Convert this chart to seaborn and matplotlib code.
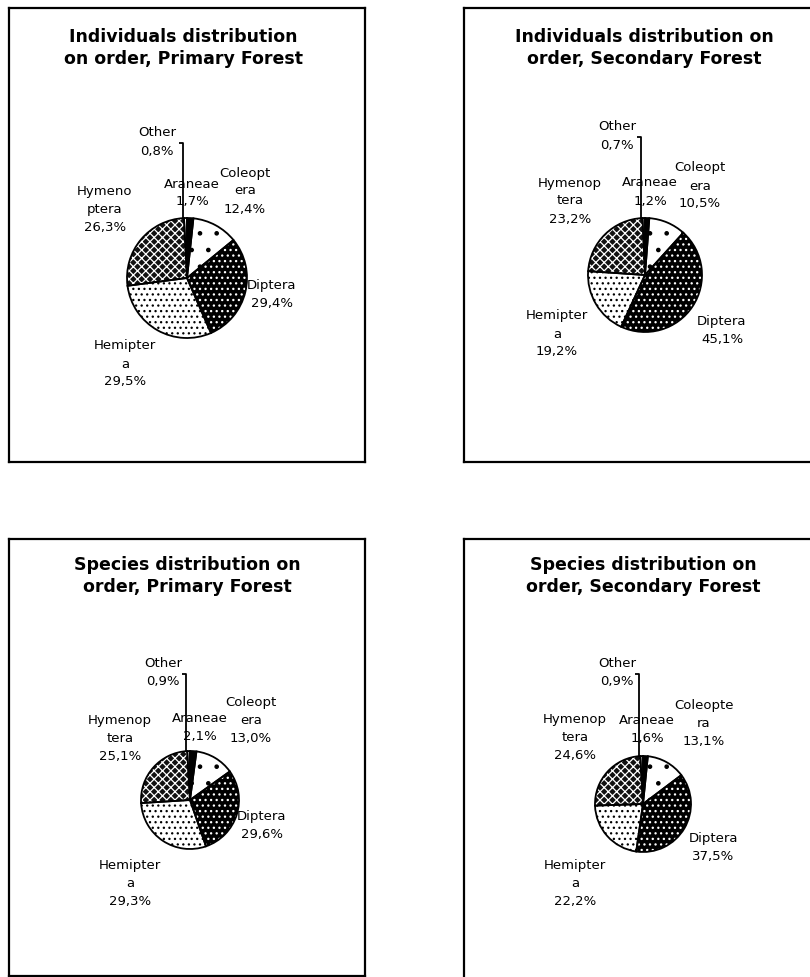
import matplotlib
matplotlib.use("Agg")
import matplotlib.pyplot as plt
import seaborn as sns

sns.set_theme(style="white")
plt.rcParams["font.family"] = ["DejaVu Sans"]
plt.rcParams["hatch.linewidth"] = 0.9

# data: slice order clockwise from 12 o'clock
orders = ["Araneae", "Coleoptera", "Diptera", "Hemiptera", "Hymenoptera", "Other"]
ind_primary = [1.7, 12.4, 29.4, 29.5, 26.3, 0.8]
ind_secondary = [1.2, 10.5, 45.1, 19.2, 23.2, 0.7]
spe_primary = [2.1, 13.0, 29.6, 29.3, 25.1, 0.9]
spe_secondary = [1.6, 13.1, 37.5, 22.2, 24.6, 0.9]

titles = ["Individuals distribution\non order, Primary Forest",
          "Individuals distribution on\norder, Secondary Forest",
          "Species distribution on\norder, Primary Forest",
          "Species distribution on\norder, Secondary Forest"]

# how each chart wrapped the category names
names_tl = ["Araneae", "Coleopt\nera", "Diptera", "Hemipter\na", "Hymeno\nptera", "Other"]
names_tr = ["Araneae", "Coleopt\nera", "Diptera", "Hemipter\na", "Hymenop\ntera", "Other"]
names_bl = ["Araneae", "Coleopt\nera", "Diptera", "Hemipter\na", "Hymenop\ntera", "Other"]
names_br = ["Araneae", "Coleopte\nra", "Diptera", "Hemipter\na", "Hymenop\ntera", "Other"]

panels = [(ind_primary, names_tl), (ind_secondary, names_tr),
          (spe_primary, names_bl), (spe_secondary, names_br)]

# layout in figure pixels (x0, top, x1, bottom), pie centre, radius, title centre
W, H = 810, 978
boxes = [(9, 9, 365, 463), (464, 9, 820, 463), (9, 540, 365, 977), (464, 540, 820, 990)]
centres = [(187, 279, 60), (645, 276, 57), (190, 801, 49), (643, 805, 48)]
title_pos = [(183, 48), (644, 48), (187, 576), (643, 576)]
# label offsets from the pie centre (dx, dy downwards), same order as orders
label_off = [
    [(5, -86), (58, -88), (85, 15), (-62, 85), (-82, -69), (-30, -137)],
    [(5, -84), (55, -90), (77, 54), (-88, 58), (-75, -75), (-28, -140)],
    [(10, -73), (61, -80), (72, 25), (-60, 83), (-70, -62), (-27, -128)],
    [(4, -75), (61, -81), (70, 43), (-68, 79), (-68, -67), (-26, -132)],
]
# slice styles: face, hatch, hatch colour
styles = [("black", "", "black"),
          ("white", ".", "black"),
          ("black", "...", "white"),
          ("white", "...", "black"),
          ("#111111", "xxxx", "white"),
          ("white", "", "black")]

fig = plt.figure(figsize=(W / 100, H / 100), dpi=100)
fig.patch.set_facecolor("white")

for k, (vals, names) in enumerate(panels):
    x0, top, x1, bot = boxes[k]
    ax = fig.add_axes([x0 / W, 1 - bot / H, (x1 - x0) / W, (bot - top) / H])
    cx, cy, r = centres[k]
    cyu = H - cy
    wedges, _ = ax.pie(vals, startangle=90, counterclock=False, center=(cx, cyu),
                       radius=r, frame=True, wedgeprops=dict(linewidth=0))
    for w, (fc, ht, hc) in zip(wedges, styles):
        w.set_facecolor(fc)
        w.set_hatch(ht)
        w.set_edgecolor(hc)
    ax.pie(vals, startangle=90, counterclock=False, center=(cx, cyu), radius=r,
           frame=True, wedgeprops=dict(fill=False, edgecolor="black", linewidth=1.3))
    ax.set_xlim(x0, x1)
    ax.set_ylim(H - bot, H - top)
    ax.set_aspect("auto")
    ax.set_xticks([])
    ax.set_yticks([])
    for s in ax.spines.values():
        s.set_visible(True)
        s.set_color("black")
        s.set_linewidth(1.6)

    for i, (v, nm) in enumerate(zip(vals, names)):
        dx, dy = label_off[k][i]
        txt = f"{nm}\n{v:.1f}%".replace(".", ",")
        ax.text(cx + dx, H - (cy + dy), txt, ha="center", va="center",
                fontsize=9.5, linespacing=1.5, color="black")

    # leader line for the tiny "Other" slice
    odx, ody = label_off[k][5]
    lx = cx - 4
    ly = H - (cy + ody) - 2
    ax.plot([lx - 4, lx, lx], [ly, ly, cyu + r], color="black", linewidth=1.3,
            solid_capstyle="butt")

    tx, ty = title_pos[k]
    ax.text(tx, H - ty, titles[k], ha="center", va="center", fontsize=12.5,
            fontweight="bold", linespacing=1.25, color="black")

fig.savefig("out.png", dpi=100, facecolor="white")
